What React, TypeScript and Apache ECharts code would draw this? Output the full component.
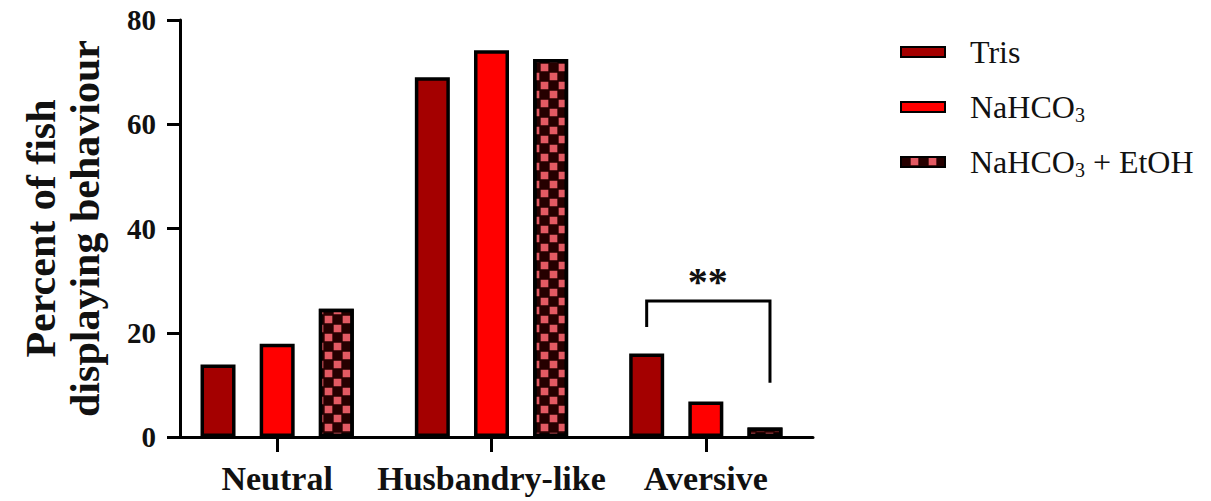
import React, { useEffect, useRef } from "react";
import * as echarts from "echarts";

const categories = ["Neutral", "Husbandry-like", "Aversive"];
const seriesNames = ["Tris", "NaHCO3", "NaHCO3 + EtOH"];
const trisValues = [13.9, 69.0, 16.0];
const nahco3Values = [17.9, 74.2, 6.8];
const etohValues = [24.6, 72.5, 1.8];
const yMin = 0;
const yMax = 80;
const yInterval = 20;
const yTitle = "Percent of fish\ndisplaying behaviour";
// [category, bracket top value, left leg end value, right leg end value]
const bracketData = [["Aversive", 26.1, 21.1, 10.4]];
const significance = "**";

const SERIF = '"Liberation Serif", "Times New Roman", serif';
const BAR_W = 35;
const GAP = 0.69;

export default function App() {
  const ref = useRef<HTMLDivElement>(null);
  useEffect(() => {
    document.body.style.margin = "0";
    const chart = echarts.init(ref.current!, undefined, { renderer: "svg" });
    const border = { borderColor: "#000", borderWidth: 3.5 };
    chart.setOption({
      animation: false,
      backgroundColor: "#fff",
      grid: { left: 170, right: 398, top: 20, bottom: 64, containLabel: false },
      legend: {
        data: seriesNames,
        orient: "vertical",
        left: 895,
        top: 29,
        icon: "rect",
        itemWidth: 44,
        itemHeight: 10,
        itemGap: 19,
        itemStyle: { borderColor: "#000", borderWidth: 2 },
        formatter: (name: string) => name.replace("NaHCO3", "NaHCO{s|3}"),
        textStyle: {
          fontFamily: SERIF,
          fontSize: 32,
          color: "#111",
          lineHeight: 36,
          padding: [0, 0, 0, 20],
          rich: {
            s: { fontFamily: SERIF, fontSize: 20, lineHeight: 12, verticalAlign: "bottom", color: "#111" },
          },
        },
      },
      xAxis: {
        type: "category",
        data: categories,
        axisLine: { show: true, lineStyle: { color: "#000", width: 3 } },
        axisTick: { show: true, alignWithLabel: true, length: 15, lineStyle: { color: "#000", width: 3 } },
        axisLabel: { interval: 0, hideOverlap: false, fontFamily: SERIF, fontSize: 34, fontWeight: "bold", color: "#111", margin: 24 },
        splitLine: { show: false },
      },
      yAxis: {
        type: "value",
        min: yMin,
        max: yMax,
        interval: yInterval,
        offset: -10,
        axisLine: { show: true, lineStyle: { color: "#000", width: 3 } },
        axisTick: { show: true, length: 13, lineStyle: { color: "#000", width: 3 } },
        axisLabel: { fontFamily: SERIF, fontSize: 29, fontWeight: "bold", color: "#111", margin: 24 },
        splitLine: { show: false },
        name: yTitle,
        nameLocation: "middle",
        nameGap: 73,
        nameTextStyle: { fontFamily: SERIF, fontSize: 42, fontWeight: "bold", color: "#111", lineHeight: 44 },
      },
      series: [
        {
          name: seriesNames[0],
          type: "bar",
          data: trisValues,
          barWidth: BAR_W,
          barGap: GAP * 100 + "%",
          itemStyle: { color: "#a40000", ...border },
        },
        {
          name: seriesNames[1],
          type: "bar",
          data: nahco3Values,
          barWidth: BAR_W,
          barGap: GAP * 100 + "%",
          itemStyle: { color: "#ff0000", ...border },
        },
        {
          name: seriesNames[2],
          type: "bar",
          data: etohValues,
          barWidth: BAR_W,
          barGap: GAP * 100 + "%",
          itemStyle: {
            color: "#260000",
            ...border,
            decal: {
              symbol: "rect",
              symbolSize: 0.85,
              color: "#e35a63",
              dashArrayX: [[8.5, 8.5], [0, 8.5, 8.5, 0]],
              dashArrayY: [8.5, 0],
              rotation: 0,
            },
          },
        },
        {
          name: "significance",
          type: "custom",
          data: bracketData,
          encode: { x: 0, y: 1 },
          z: 5,
          renderItem: (params: any, api: any) => {
            const top = api.coord([api.value(0), api.value(1)]);
            const yL = api.coord([api.value(0), api.value(2)])[1];
            const yR = api.coord([api.value(0), api.value(3)])[1];
            const off = BAR_W * (1 + GAP);
            const cx = top[0];
            return {
              type: "group",
              children: [
                {
                  type: "polyline",
                  shape: {
                    points: [
                      [cx - off, yL],
                      [cx - off, top[1]],
                      [cx + off + 5, top[1]],
                      [cx + off + 5, yR],
                    ],
                  },
                  style: { stroke: "#000", lineWidth: 3, fill: "none" },
                },
                {
                  type: "text",
                  x: cx + 2,
                  y: top[1] + 1,
                  style: {
                    text: significance,
                    font: `bold 40px ${SERIF}`,
                    align: "center",
                    verticalAlign: "bottom",
                    fill: "#111",
                  },
                },
              ],
            };
          },
        },
      ],
    });
    return () => chart.dispose();
  }, []);
  return <div ref={ref} style={{ width: 1211, height: 501 }} />;
}
